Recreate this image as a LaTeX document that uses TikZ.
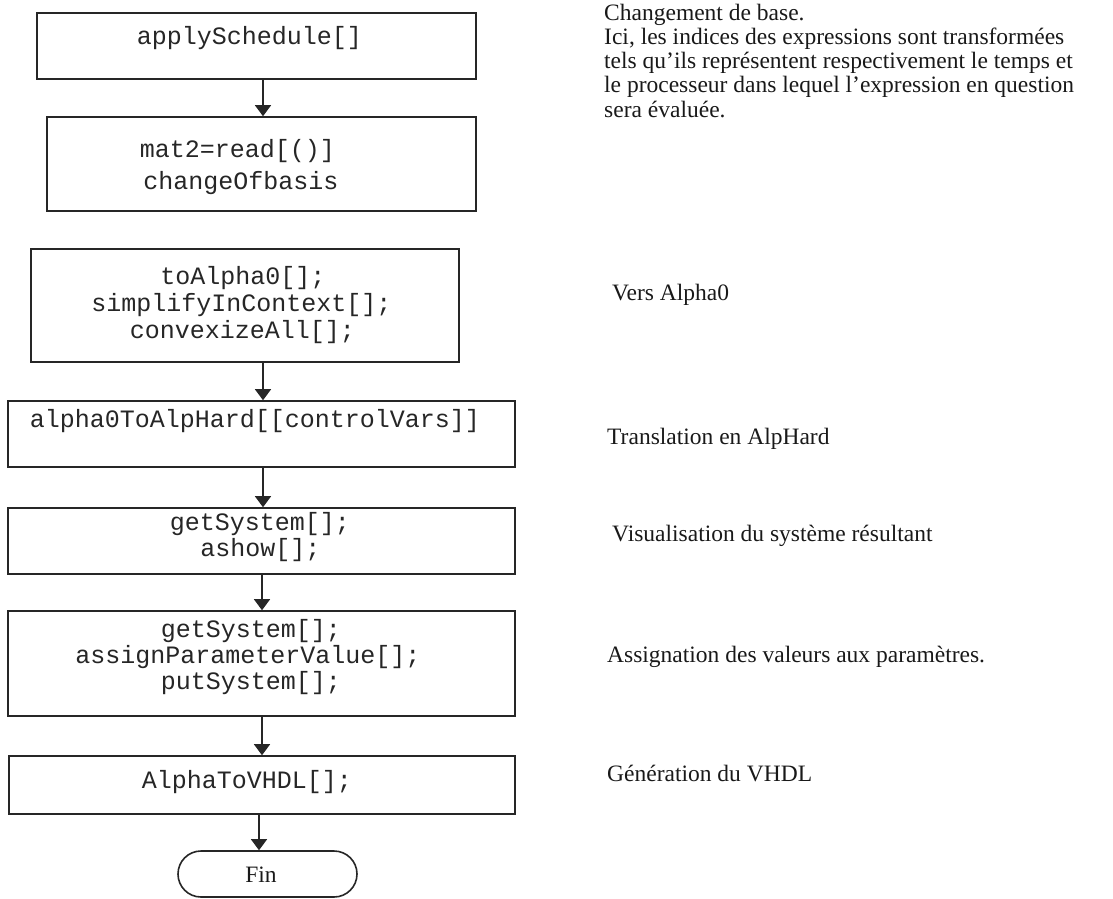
\documentclass[tikz,border=0pt]{standalone}
\usepackage{fontspec}
\setmainfont{Liberation Serif}[Ligatures=Common]
\setmonofont{Liberation Mono}
\usetikzlibrary{arrows.meta}
\begin{document}
\begin{tikzpicture}[x=1pt,y=-1pt,
  box/.style={draw=black!85, line width=1.6pt, inner sep=0pt},
  code/.style={font=\fontsize{25}{27}\ttfamily, text=black!85, anchor=base, inner sep=0pt},
  note/.style={font=\fontsize{23.5}{24.3}\selectfont, text=black!90, anchor=base west, inner sep=0pt},
  arr/.style={draw=black!85, line width=1.6pt, -{Triangle[width=16pt,length=11pt]}}]
\useasboundingbox (0,0) rectangle (1113,898);

% processing steps
\node[box, minimum width=439pt, minimum height=66pt]  (b1) at (256.5,46)  {};
\node[box, minimum width=429pt, minimum height=94pt]  (b2) at (261.5,164) {};
\node[box, minimum width=428pt, minimum height=113pt] (b3) at (245,305.5) {};
\node[box, minimum width=507pt, minimum height=66pt]  (b4) at (261.5,434) {};
\node[box, minimum width=507pt, minimum height=66pt]  (b5) at (261.5,541) {};
\node[box, minimum width=507pt, minimum height=105pt] (b6) at (261.5,663.5) {};
\node[box, minimum width=506pt, minimum height=58pt]  (b7) at (262,785) {};
\node[box, rounded corners=23pt, minimum width=179pt, minimum height=46pt] (fin) at (267.5,874) {};

% code inside the steps
\node[code] (c1)  at (249.5,44)  {applySchedule[]};
\node[code] (c2a) at (237.5,157) {mat2=read[()]};
\node[code] (c2b) at (241,189)   {changeOfbasis};
\node[code] (c3a) at (243,284)   {toAlpha0[];};
\node[code] (c3b) at (241.5,311) {simplifyInContext[];};
\node[code] (c3c) at (242.5,338) {convexizeAll[];};
\node[code] (c4)  at (255,427)   {alpha0ToAlpHard[[controlVars]]};
\node[code] (c5a) at (260,530)   {getSystem[];};
\node[code] (c5b) at (260.5,556) {ashow[];};
\node[code] (c6a) at (251,637)   {getSystem[];};
\node[code] (c6b) at (248,663)   {assignParameterValue[];};
\node[code] (c6c) at (251,689)   {putSystem[];};
\node[code] (c7)  at (247,788)   {AlphaToVHDL[];};
\node[font=\fontsize{23.5}{24.3}\selectfont, text=black!90, anchor=base, inner sep=0pt] (cf) at (261,882) {Fin};

% flow
\draw[arr] (b1.south -| 263,0) -- (b2.north -| 263,0);
\draw[arr] (b3.south -| 263,0) -- (b4.north -| 263,0);
\draw[arr] (b4.south -| 263,0) -- (b5.north -| 263,0);
\draw[arr] (b5.south -| 262,0) -- (b6.north -| 262,0);
\draw[arr] (b6.south -| 262,0) -- (b7.north -| 262,0);
\draw[arr] (b7.south -| 259,0) -- (fin.north -| 259,0);

% comments beside the steps
\node[note] (n1a) at (604,20)    {Changement de base.};
\node[note] (n1b) at (604,44.3)  {Ici, les indices des expressions sont transformées};
\node[note] (n1c) at (604,68.6)  {tels qu'ils représentent respectivement le temps et};
\node[note] (n1d) at (604,92.9)  {le processeur dans lequel l'expression en question};
\node[note] (n1e) at (604,117.2) {sera évaluée.};
\node[note] (n3) at (612,300) {Vers Alpha0};
\node[note] (n4) at (607,444) {Translation en AlpHard};
\node[note] (n5) at (612,541) {Visualisation du système résultant};
\node[note] (n6) at (607,662) {Assignation des valeurs aux paramètres.};
\node[note] (n7) at (607,781) {Génération du VHDL};
\end{tikzpicture}
\end{document}
